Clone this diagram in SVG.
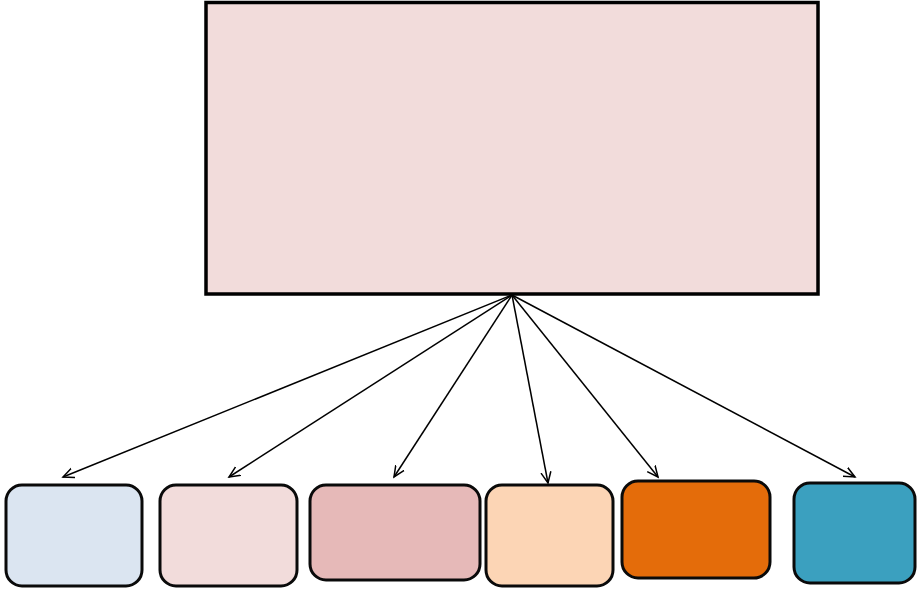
<svg xmlns="http://www.w3.org/2000/svg" width="919" height="591" viewBox="0 0 919 591">
<style>
.top{stroke:#000;stroke-width:3.5;}
.box{stroke:#0a0a0a;stroke-width:3;}
.conn{stroke:#000;stroke-width:1.5;fill:none;marker-end:url(#arr);}
</style>
<defs>
<marker id="arr" markerWidth="14" markerHeight="14" refX="11" refY="6" orient="auto" markerUnits="userSpaceOnUse">
<polyline points="0,1 11,6 0,11" fill="none" stroke="#000" stroke-width="1.5"/>
</marker>
</defs>
<rect width="919" height="591" fill="#fff"/>
<g id="root"><rect class="top" x="206" y="2.5" width="612" height="291.5" fill="#f2dcdb"/></g>
<g id="n1"><rect class="box" x="6" y="485" width="136" height="101" rx="16" fill="#dbe5f1"/></g>
<g id="n2"><rect class="box" x="160" y="485" width="137" height="101" rx="16" fill="#f2dcdb"/></g>
<g id="n3"><rect class="box" x="310" y="485" width="170" height="95" rx="16" fill="#e6b9b8"/></g>
<g id="n4"><rect class="box" x="486" y="485" width="127" height="101" rx="16" fill="#fcd5b5"/></g>
<g id="n5"><rect class="box" x="622" y="481" width="148" height="97" rx="16" fill="#e46c0a"/></g>
<g id="n6"><rect class="box" x="794" y="483" width="121" height="100" rx="16" fill="#3ba0bf"/></g>
<g id="connectors">
<line class="conn" x1="512" y1="295" x2="63" y2="477"/>
<line class="conn" x1="512" y1="295" x2="229" y2="477"/>
<line class="conn" x1="512" y1="295" x2="394" y2="477"/>
<line class="conn" x1="512" y1="295" x2="548" y2="483"/>
<line class="conn" x1="512" y1="295" x2="658" y2="477"/>
<line class="conn" x1="512" y1="295" x2="855" y2="477"/>
</g>
</svg>
